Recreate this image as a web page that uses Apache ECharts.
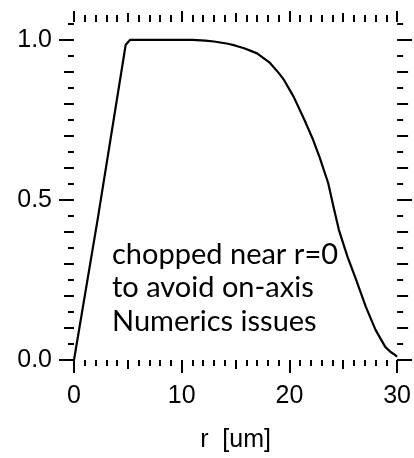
<!DOCTYPE html>
<html>
<head>
<meta charset="utf-8">
<script src="https://cdn.jsdelivr.net/npm/echarts@6/dist/echarts.min.js"></script>
<style>
html,body{margin:0;padding:0;background:#fff;}
#chart{width:414px;height:458px;}
</style>
</head>
<body>
<div id="chart"></div>
<script>
// ---- data ----
const rValues = [0, 2.2, 4.8, 5.2, 8, 11, 12.2, 13, 14.3, 15, 15.8, 17, 18.2, 19, 19.5, 20.4, 21.4, 22.2, 22.8, 23.6, 24.1, 24.6, 25.4, 26.2, 27.1, 28, 28.9, 29.4, 29.8, 30];
const profile = [0, 0.44, 0.985, 1, 1, 1, 0.998, 0.995, 0.988, 0.982, 0.974, 0.958, 0.928, 0.897, 0.875, 0.822, 0.75, 0.688, 0.634, 0.553, 0.478, 0.406, 0.322, 0.25, 0.166, 0.094, 0.041, 0.025, 0.016, 0.01];

// ---- ticks ----
const yMajorTicks = [0, 0.5, 1.0];
const yMediumTicks = [0.1, 0.2, 0.3, 0.4, 0.6, 0.7, 0.8, 0.9];
const yMinorTicks = [0.05, 0.15, 0.25, 0.35, 0.45, 0.55, 0.65, 0.75, 0.85, 0.95, 1.05];
const xMajorTicks = [0, 10, 20, 30];
const xMediumTicks = [5, 15, 25];
const xMinorTicks = [1, 2, 3, 4, 6, 7, 8, 9, 11, 12, 13, 14, 16, 17, 18, 19, 21, 22, 23, 24, 26, 27, 28, 29];

const xName = 'r  [um]';
const noteLines = ['chopped near r=0', 'to avoid on-axis', 'Numerics issues'];

const X_MIN = 0, X_MAX = 30, Y_MIN = 0, Y_MAX = 1.056;
const labelFont = { color: '#000', fontFamily: 'Liberation Sans', fontSize: 25 };

function xAx(pos, ticks, len, withLabel) {
  return {
    type: 'value', position: pos, min: X_MIN, max: X_MAX,
    axisLine: { show: false, onZero: false }, splitLine: { show: false },
    axisTick: { show: true, inside: false, length: len, customValues: ticks,
                lineStyle: { color: '#000', width: 2 } },
    axisLabel: withLabel ? Object.assign({ show: true, margin: 24, customValues: ticks,
                formatter: v => String(v) }, labelFont) : { show: false },
    name: withLabel ? xName : '',
    nameLocation: 'middle', nameGap: 68,
    nameTextStyle: labelFont
  };
}
function yAx(pos, ticks, len, withLabel) {
  return {
    type: 'value', position: pos, min: Y_MIN, max: Y_MAX,
    axisLine: { show: false, onZero: false }, splitLine: { show: false },
    axisTick: { show: true, inside: false, length: len, customValues: ticks,
                lineStyle: { color: '#000', width: 2 } },
    axisLabel: withLabel ? Object.assign({ show: true, margin: 22, customValues: ticks,
                formatter: v => v.toFixed(1) }, labelFont) : { show: false }
  };
}

const chart = echarts.init(document.getElementById('chart'), null, { renderer: 'canvas' });
chart.setOption({
  animation: false,
  backgroundColor: '#fff',
  grid: { left: 74, right: 12, top: 22, bottom: 98, containLabel: false },
  xAxis: [
    xAx('bottom', xMajorTicks, 13, true),
    xAx('bottom', xMediumTicks, 9, false),
    xAx('bottom', xMinorTicks, 6, false),
    xAx('top', xMajorTicks, 11, false),
    xAx('top', xMediumTicks, 9, false),
    xAx('top', xMinorTicks, 7, false)
  ],
  yAxis: [
    yAx('left', yMajorTicks, 15, true),
    yAx('left', yMediumTicks, 10, false),
    yAx('left', yMinorTicks, 6, false),
    yAx('right', yMajorTicks, 15, false),
    yAx('right', yMediumTicks, 11, false),
    yAx('right', yMinorTicks, 6, false)
  ],
  series: [{
    type: 'line',
    xAxisIndex: 0, yAxisIndex: 0,
    data: rValues.map((r, i) => [r, profile[i]]),
    showSymbol: false,
    smooth: false,
    lineStyle: { color: '#000', width: 2.2, join: 'round' }
  }],
  graphic: noteLines.map((t, i) => ({
    type: 'text', left: 112, top: 240 + i * 33.5,
    style: { text: t, fill: '#000', font: '29px Lato', textVerticalAlign: 'top' }
  }))
});
</script>
</body>
</html>
